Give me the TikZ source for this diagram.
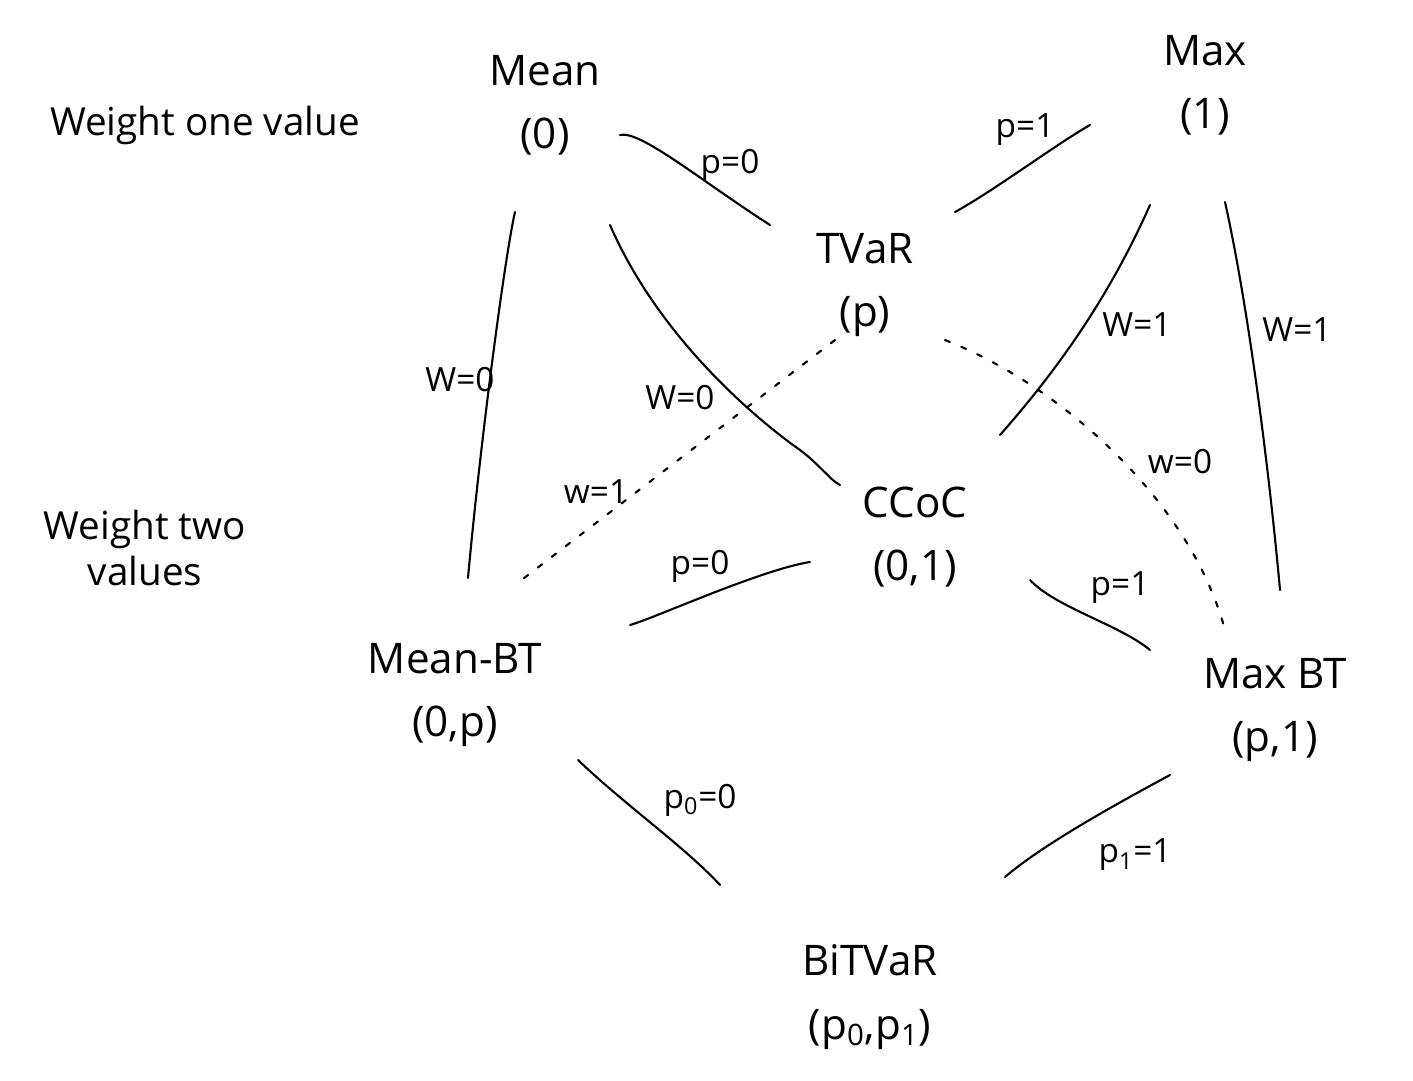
\documentclass[tikz,border=0pt]{standalone}
\usepackage{fontspec}
\setmainfont{Open Sans}
\usetikzlibrary{calc}
\begin{document}
\begin{tikzpicture}[x=0.02cm,y=-0.02cm,
  concept/.style={align=center,font=\fontsize{24}{36}\selectfont,inner sep=0pt},
  note/.style={align=center,font=\fontsize{22}{26}\selectfont,inner sep=0pt},
  elabel/.style={font=\fontsize{19}{22}\selectfont,inner sep=0pt},
  solidline/.style={line width=1.2pt,line cap=round},
  dotline/.style={line width=1.2pt,line cap=round,dash pattern=on 3pt off 7pt}]
\useasboundingbox (0,0) rectangle (1413,1081);
% nodes
\node[concept] (mean) at (545,105) {Mean\\(0)};
\node[concept] (max) at (1205,85) {Max\\(1)};
\node[concept] (tvar) at (865,285) {TVaR\\(p)};
\node[concept] (ccoc) at (915,537) {CCoC\\(0,1)};
\node[concept] (meanbt) at (455,695) {Mean-BT\\(0,p)};
\node[concept] (maxbt) at (1275,710) {Max BT\\(p,1)};
\node[concept] (bitvar) at (870,997) {BiTVaR\\(p\textsubscript{0},p\textsubscript{1})};
\node[note] (wone) at (205,125) {Weight one value};
\node[note] (wtwo) at (145,548) {Weight two\\values};
% connectors
\draw[solidline] ($(mean)+(75,30)$) .. controls ($(mean)+(95,25)$) and ($(tvar)+(-165,-105)$) .. ($(tvar)+(-95,-60)$);
\node[elabel] (l1) at (730,165) {p=0};
\draw[solidline] ($(tvar)+(90,-73)$) .. controls ($(tvar)+(130,-95)$) and ($(max)+(-150,60)$) .. ($(max)+(-115,40)$);
\node[elabel] (l2) at (1025,130) {p=1};
\draw[solidline] ($(mean)+(-30,107)$) .. controls ($(mean)+(-40,150)$) and ($(meanbt)+(25,-250)$) .. ($(meanbt)+(13,-117)$);
\node[elabel] (l3) at (460,380) {W=0};
\draw[solidline] ($(mean)+(65,120)$) .. controls ($(mean)+(115,235)$) and ($(ccoc)+(-155,-115)$) .. ($(ccoc)+(-115,-87)$)
  .. controls ($(ccoc)+(-95,-72)$) and ($(ccoc)+(-85,-57)$) .. ($(ccoc)+(-75,-52)$);
\node[elabel] (l4) at (680,398) {W=0};
\draw[dotline] ($(tvar)+(-30,55)$) -- ($(meanbt)+(60,-110)$);
\node[elabel] (l5) at (596,492) {w=1};
\draw[dotline] ($(tvar)+(80,55)$) .. controls ($(tvar)+(195,100)$) and ($(maxbt)+(-85,-210)$) .. ($(maxbt)+(-50,-80)$);
\node[elabel] (l6) at (1180,462) {w=0};
\draw[solidline] ($(max)+(-55,120)$) .. controls ($(max)+(-95,210)$) and ($(ccoc)+(145,-170)$) .. ($(ccoc)+(85,-102)$);
\node[elabel] (l7) at (1137,325) {W=1};
\draw[solidline] ($(max)+(20,117)$) .. controls ($(max)+(45,230)$) and ($(maxbt)+(-5,-230)$) .. ($(maxbt)+(5,-120)$);
\node[elabel] (l8) at (1297,330) {W=1};
\draw[solidline] ($(meanbt)+(175,-70)$) .. controls ($(meanbt)+(200,-77)$) and ($(ccoc)+(-155,33)$) .. ($(ccoc)+(-105,25)$);
\node[elabel] (l9) at (700,566) {p=0};
\draw[solidline] ($(ccoc)+(115,43)$) .. controls ($(ccoc)+(140,70)$) and ($(maxbt)+(-155,-85)$) .. ($(maxbt)+(-125,-60)$);
\node[elabel] (l10) at (1120,588) {p=1};
\draw[solidline] ($(meanbt)+(123,65)$) .. controls ($(meanbt)+(170,110)$) and ($(bitvar)+(-185,-150)$) .. ($(bitvar)+(-150,-112)$);
\node[elabel] (l11) at (700,800) {p\textsubscript{0}=0};
\draw[solidline] ($(maxbt)+(-105,65)$) .. controls ($(maxbt)+(-170,100)$) and ($(bitvar)+(170,-150)$) .. ($(bitvar)+(135,-120)$);
\node[elabel] (l12) at (1135,855) {p\textsubscript{1}=1};
\end{tikzpicture}
\end{document}
